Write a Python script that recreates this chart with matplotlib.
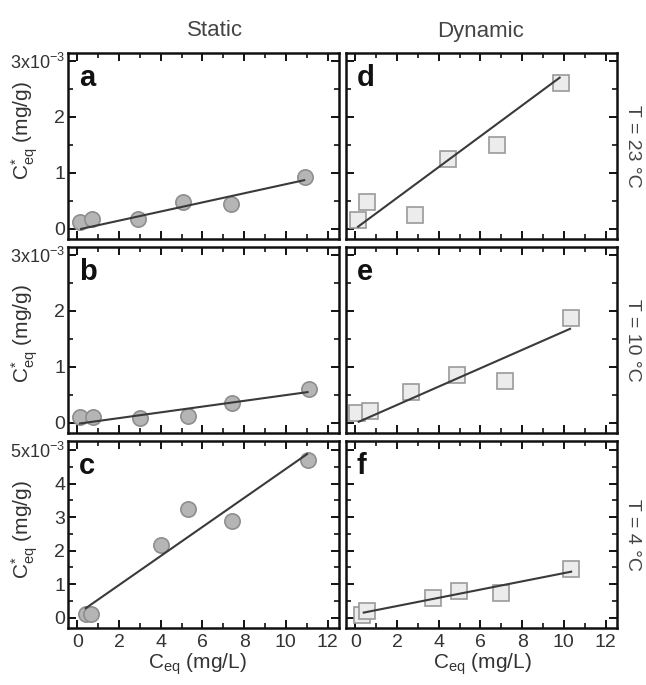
import matplotlib
matplotlib.use('Agg')
import matplotlib.pyplot as plt
from matplotlib.ticker import MultipleLocator, FixedLocator

plt.rcParams['font.family'] = ['Liberation Sans', 'DejaVu Sans']
plt.rcParams['mathtext.fontset'] = 'custom'
plt.rcParams['mathtext.rm'] = 'Liberation Sans'
plt.rcParams['mathtext.it'] = 'Liberation Sans:italic'
plt.rcParams['mathtext.bf'] = 'Liberation Sans:bold'

# data (C*eq in units of 1e-3 mg/g, Ceq in mg/L)
static_23_x = [0.13, 0.72, 2.9, 5.06, 7.35, 10.9]
static_23_y = [0.13, 0.17, 0.17, 0.48, 0.44, 0.93]
static_23_fit_x = [0.18, 10.88]
static_23_fit_y = [0.0, 0.87]

static_10_x = [0.13, 0.77, 2.99, 5.3, 7.43, 11.12]
static_10_y = [0.10, 0.11, 0.09, 0.12, 0.36, 0.60]
static_10_fit_x = [0.13, 11.04]
static_10_fit_y = [-0.01, 0.55]

static_4_x = [0.4, 0.67, 4.03, 5.29, 7.44, 11.08]
static_4_y = [0.10, 0.12, 2.17, 3.25, 2.89, 4.70]
static_4_fit_x = [0.4, 11.02]
static_4_fit_y = [0.28, 4.88]

dyn_23_x = [0.13, 0.56, 2.88, 4.45, 6.77, 9.84]
dyn_23_y = [0.16, 0.48, 0.24, 1.25, 1.49, 2.61]
dyn_23_fit_x = [0.13, 9.8]
dyn_23_fit_y = [0.04, 2.7]

dyn_10_x = [0.08, 0.69, 2.69, 4.88, 7.17, 10.35]
dyn_10_y = [0.17, 0.22, 0.56, 0.86, 0.75, 1.88]
dyn_10_fit_x = [0.16, 10.3]
dyn_10_fit_y = [0.02, 1.68]

dyn_4_x = [0.32, 0.56, 3.73, 4.96, 7.0, 10.35]
dyn_4_y = [0.07, 0.20, 0.60, 0.80, 0.72, 1.45]
dyn_4_fit_x = [0.4, 10.35]
dyn_4_fit_y = [0.15, 1.37]

row_temps = ['T = 23 \u00b0C', 'T = 10 \u00b0C', 'T = 4 \u00b0C']
row_ymax = [3, 3, 5]
panel_letters = [['a', 'd'], ['b', 'e'], ['c', 'f']]

W, H = 646., 685.
fig = plt.figure(figsize=(W/100., H/100.), dpi=100)

cols_px = [(68, 339), (346, 617)]
rows_px = [(53, 239), (247, 433), (441, 628)]
ylims = [(-0.18, 3.14), (-0.18, 3.14), (-0.31, 5.27)]

static = [(static_23_x, static_23_y, static_23_fit_x, static_23_fit_y),
          (static_10_x, static_10_y, static_10_fit_x, static_10_fit_y),
          (static_4_x, static_4_y, static_4_fit_x, static_4_fit_y)]
dynamic = [(dyn_23_x, dyn_23_y, dyn_23_fit_x, dyn_23_fit_y),
           (dyn_10_x, dyn_10_y, dyn_10_fit_x, dyn_10_fit_y),
           (dyn_4_x, dyn_4_y, dyn_4_fit_x, dyn_4_fit_y)]

tick_col = '#333333'

for r in range(3):
    y0, y1 = rows_px[r]
    for c in range(2):
        x0, x1 = cols_px[c]
        ax = fig.add_axes([x0/W, 1-y1/H, (x1-x0)/W, (y1-y0)/H])
        if c == 0:
            xs, ys, fx, fy = static[r]
            ax.plot(xs, ys, 'o', ms=11, mfc='#b5b5b5', mec='#8e8e8e', mew=1.2, zorder=3)
        else:
            xs, ys, fx, fy = dynamic[r]
            ax.plot(xs, ys, 's', ms=11, mfc='#ececec', mec='#9a9a9a', mew=1.2, zorder=3)
        ax.plot(fx, fy, '-', color='#3a3a3a', lw=1.5, zorder=4)

        ax.set_xlim(-0.45, 12.55)
        ax.set_ylim(ylims[r])
        ax.xaxis.set_major_locator(MultipleLocator(2))
        ax.xaxis.set_minor_locator(MultipleLocator(1))
        ax.yaxis.set_major_locator(FixedLocator(range(row_ymax[r]+1)))
        ax.yaxis.set_minor_locator(MultipleLocator(0.5))
        ax.tick_params(which='both', direction='in', top=True, right=True,
                       colors='#111111', labelcolor=tick_col, labelsize=14)
        ax.tick_params(which='major', length=6, width=1.4)
        ax.tick_params(which='minor', length=3.5, width=1.2)
        ax.tick_params(axis='x', pad=4)
        ax.tick_params(axis='y', pad=2)
        for sp in ax.spines.values():
            sp.set_linewidth(1.8)
            sp.set_color('#111111')

        if r < 2:
            ax.set_xticklabels([])
        if c == 0:
            labs = [str(v) for v in range(row_ymax[r])] + [r'%dx10$^{-3}$' % row_ymax[r]]
            ax.set_yticklabels(labs)
            ax.get_yticklabels()[-1].set_fontsize(13)
        else:
            ax.set_yticklabels([])

        ax.text(0.04, 0.94, panel_letters[r][c], transform=ax.transAxes,
                ha='left', va='top', fontsize=21, fontweight='bold', color='#111111')

    fig.text(632/W, 1-(y0+y1)/2./H, row_temps[r], rotation=270, ha='center', va='center',
             fontsize=14, color='#444444')

# y labels
ylab_y = [131, 334, 530]
for yy in ylab_y:
    fig.text(25/W, 1-yy/H, r'C$^{*}_{\rm eq}$ (mg/g)', rotation=90, ha='center', va='center',
             fontsize=15, color='#333333')

# x labels
fig.text(197/W, 1-664/H, r'C$_{\rm eq}$ (mg/L)', ha='center', va='center', fontsize=15, color='#333333')
fig.text(482/W, 1-664/H, r'C$_{\rm eq}$ (mg/L)', ha='center', va='center', fontsize=15, color='#333333')

# column titles
fig.text(215/W, 1-31/H, 'Static', ha='center', va='center', fontsize=16, color='#444444')
fig.text(481/W, 1-31/H, 'Dynamic', ha='center', va='center', fontsize=16, color='#444444')

fig.savefig('out.png', dpi=100)
